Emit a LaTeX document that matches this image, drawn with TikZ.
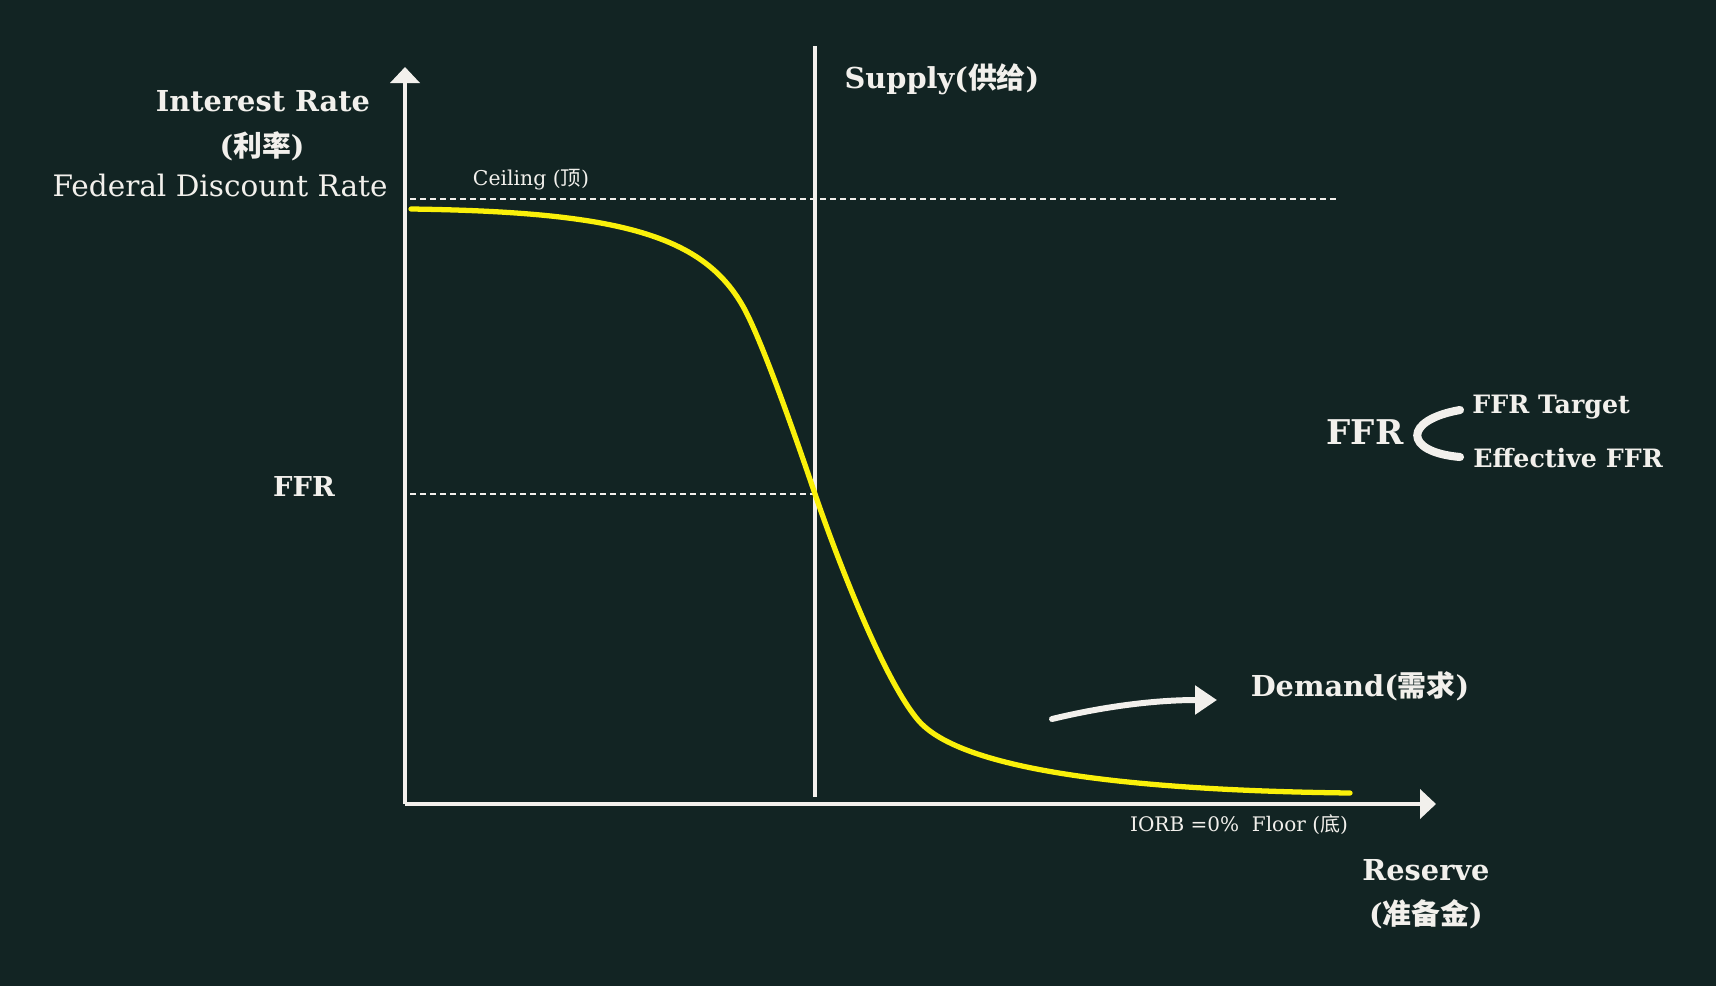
\documentclass[tikz,border=0pt]{standalone}
\usepackage{fontspec}
\setmainfont{DejaVu Serif}
\newfontfamily\cjk{Noto Sans CJK SC}
\usepackage{tikz}
\usetikzlibrary{calc, arrows.meta}

\definecolor{board}{RGB}{18,36,35}
\definecolor{chalk}{RGB}{242,240,236}
\definecolor{curve}{RGB}{250,240,10}

\begin{document}
\begin{tikzpicture}[x=0.1mm, y=-0.1mm, thick,
  axis/.style={draw=chalk, line width=1.4pt, -{Triangle[length=1.6mm,width=2.9mm]}},
  guide/.style={draw=chalk, line width=0.6pt, dash pattern=on 0.6mm off 0.4mm},
  big label/.style={text=chalk, font=\bfseries\fontsize{8.2}{10}\selectfont, inner sep=0pt},
  plain label/.style={text=chalk, font=\fontsize{8.4}{10}\selectfont, inner sep=0pt},
  small label/.style={text=chalk, font=\fontsize{5.8}{7}\selectfont, inner sep=0pt}]
   \fill[board] (0,0) rectangle (1716,986);

   % axes
   \coordinate (O) at (405,804);
   \coordinate (ytop) at (405,67);
   \coordinate (xend) at (1436,804);
   \draw[axis] (O) -- (ytop);
   \draw[axis] (O) -- (xend);

   % supply line
   \coordinate (s0) at (815,46);
   \coordinate (s1) at (815,797);
   \draw[draw=chalk, line width=0.9pt] (s0) -- (s1);

   % ceiling and ffr guides
   \coordinate (c0) at (410,199);
   \coordinate (c1) at (1337,199);
   \coordinate (f0) at (410,494);
   \coordinate (f1) at (815,494);
   \draw[guide] (c0) -- (c1);
   \draw[guide] (f0) -- (f1);

   % demand curve
   \draw[curve, line width=1.5pt, line cap=round] (411,209)
     .. controls (620,212) and (705,235) .. (745,310)
     .. controls (765,348) and (800,450) .. (815,494)
     .. controls (830,538) and (880,675) .. (918,720)
     .. controls (956,765) and (1100,790) .. (1350,793);

   % labels
   \node[big label]   (ir)   at (263,101) {Interest Rate};
   \node[big label]   (ircn) at (262,146) {({\cjk 利率})};
   \node[plain label] (fdr)  at (220,185) {Federal Discount Rate};
   \node[small label] (ceil) at (531,180) {Ceiling ({\cjk 顶})};
   \node[big label]   (sup)  at (942,79)  {Supply({\cjk 供给})};
   \node[big label, font=\bfseries\fontsize{7.8}{9}\selectfont] (ffr) at (304,486) {FFR};
   \node[small label, font=\fontsize{5.7}{7}\selectfont] (iorb) at (1239,825) {IORB =0\%\ \ Floor ({\cjk 底})};
   \node[big label]   (dem)  at (1360,686) {Demand({\cjk 需求})};
   \node[big label]   (res)  at (1426,870) {Reserve};
   \node[big label]   (rescn) at (1426,914) {({\cjk 准备金})};

   % ffr split
   \node[big label, font=\bfseries\fontsize{9.7}{11}\selectfont] (ffr2) at (1365,432) {FFR};
   \node[big label, font=\bfseries\fontsize{7.2}{8}\selectfont, anchor=west] (tgt) at (1471,407) {FFR Target};
   \node[big label, font=\bfseries\fontsize{7.2}{8}\selectfont, anchor=west] (eff) at (1472,458) {Effective FFR};
   \coordinate (b0) at (1460,410);
   \coordinate (b1) at (1460,457);
   \draw[chalk, line width=2.3pt, line cap=round] (b0) .. controls (1403,420) and (1403,452) .. (b1);

   % shift arrow
   \coordinate (d0) at (1052,719);
   \coordinate (d1) at (1217,700);
   \draw[chalk, line width=1.7pt, line cap=round, -{Triangle[length=2.2mm,width=2.8mm]}] (d0) .. controls (1110,705) and (1160,700) .. (d1);
\end{tikzpicture}
\end{document}
